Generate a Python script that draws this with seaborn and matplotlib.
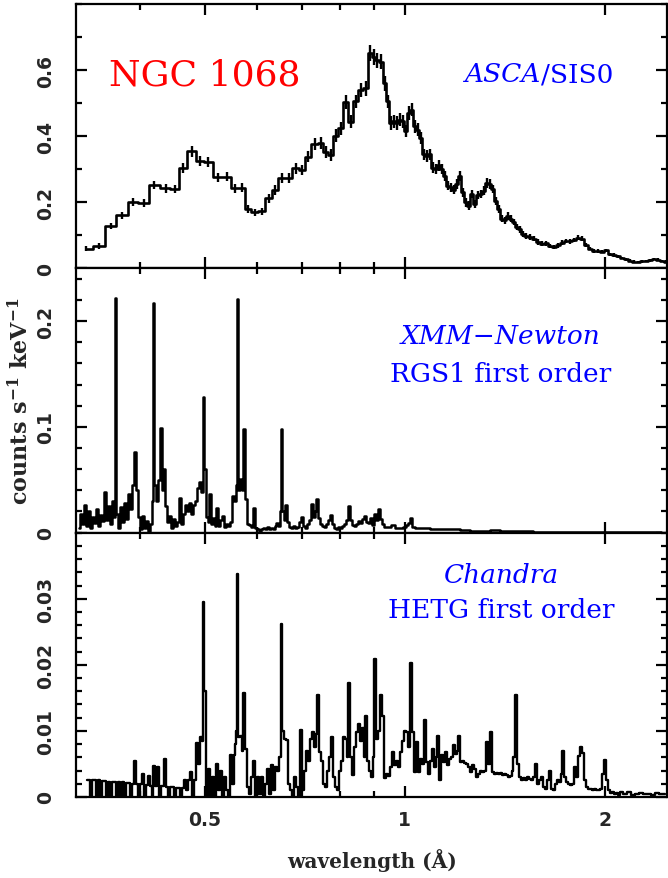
import matplotlib
matplotlib.use("Agg")
import matplotlib.pyplot as plt
from matplotlib.ticker import FixedLocator, FixedFormatter, MultipleLocator, NullFormatter
from matplotlib.offsetbox import TextArea, HPacker, AnchoredOffsetbox
import pandas as pd
import seaborn as sns

# ---------------------------------------------------------------- data
# ASCA/SIS0 grouped spectrum: bin centre (keV), rate, 1-sigma error
asca_energy = [
    0.3318, 0.3465, 0.3607, 0.3756, 0.3900, 0.4043, 0.4197, 0.4365, 0.4506, 0.4633,
    0.4783, 0.4914, 0.5057, 0.5236, 0.5391, 0.5548, 0.5693, 0.5810, 0.5940, 0.6086,
    0.6235, 0.6373, 0.6522, 0.6690, 0.6849, 0.6991, 0.7145, 0.7312, 0.7469, 0.7600,
    0.7733, 0.7868, 0.8005, 0.8146, 0.8288, 0.8433, 0.8580, 0.8730, 0.8873, 0.8982,
    0.9076, 0.9202, 0.9330, 0.9427, 0.9527, 0.9626, 0.9726, 0.9828, 0.9931, 1.0035,
    1.0140, 1.0246, 1.0353, 1.0461, 1.0571, 1.0681, 1.0793, 1.0905, 1.1019, 1.1134,
    1.1251, 1.1368, 1.1487, 1.1607, 1.1729, 1.1851, 1.1975, 1.2100, 1.2226, 1.2354,
    1.2484, 1.2614, 1.2746, 1.2879, 1.3013, 1.3149, 1.3287, 1.3426, 1.3566, 1.3707,
    1.3851, 1.3996, 1.4142, 1.4289, 1.4439, 1.4590, 1.4743, 1.4897, 1.5052, 1.5210,
    1.5422, 1.5638, 1.5856, 1.6077, 1.6301, 1.6529, 1.6760, 1.6994, 1.7231, 1.7471,
    1.7715, 1.7963, 1.8213, 1.8468, 1.8726, 1.8987, 1.9252, 1.9520, 1.9793, 2.0069,
    2.0350, 2.0633, 2.0921, 2.1214, 2.1509, 2.1810, 2.2114, 2.2423, 2.2736, 2.3054,
    2.3375, 2.3702, 2.4033, 2.4368, 2.4708,
]
asca_rate = [
    0.059, 0.069, 0.128, 0.160, 0.202, 0.198, 0.252, 0.242, 0.240, 0.303,
    0.354, 0.325, 0.323, 0.275, 0.277, 0.242, 0.244, 0.179, 0.169, 0.172,
    0.212, 0.237, 0.273, 0.273, 0.303, 0.298, 0.338, 0.376, 0.379, 0.352,
    0.344, 0.402, 0.424, 0.503, 0.444, 0.505, 0.540, 0.545, 0.652, 0.640,
    0.630, 0.625, 0.560, 0.505, 0.440, 0.445, 0.440, 0.450, 0.445, 0.415,
    0.470, 0.480, 0.430, 0.420, 0.395, 0.345, 0.340, 0.345, 0.305, 0.300,
    0.312, 0.300, 0.280, 0.250, 0.245, 0.238, 0.255, 0.280, 0.230, 0.200,
    0.190, 0.225, 0.195, 0.222, 0.225, 0.235, 0.258, 0.255, 0.240, 0.205,
    0.180, 0.150, 0.145, 0.158, 0.150, 0.140, 0.125, 0.118, 0.105, 0.098,
    0.095, 0.090, 0.080, 0.075, 0.076, 0.068, 0.064, 0.070, 0.078, 0.083,
    0.082, 0.086, 0.093, 0.090, 0.070, 0.060, 0.052, 0.052, 0.050, 0.054,
    0.042, 0.040, 0.036, 0.031, 0.027, 0.023, 0.020, 0.019, 0.021, 0.022,
    0.024, 0.028, 0.026, 0.022, 0.020,
]
asca_error = [
    0.008, 0.009, 0.010, 0.011, 0.012, 0.012, 0.013, 0.013, 0.013, 0.015,
    0.016, 0.015, 0.015, 0.014, 0.014, 0.013, 0.013, 0.012, 0.012, 0.012,
    0.013, 0.014, 0.015, 0.015, 0.016, 0.016, 0.017, 0.018, 0.018, 0.018,
    0.018, 0.019, 0.020, 0.021, 0.020, 0.021, 0.022, 0.022, 0.024, 0.024,
    0.023, 0.023, 0.022, 0.021, 0.020, 0.020, 0.020, 0.020, 0.020, 0.019,
    0.020, 0.020, 0.019, 0.019, 0.018, 0.017, 0.017, 0.017, 0.016, 0.016,
    0.016, 0.016, 0.015, 0.014, 0.014, 0.014, 0.014, 0.015, 0.014, 0.013,
    0.013, 0.013, 0.013, 0.013, 0.013, 0.013, 0.014, 0.014, 0.013, 0.012,
    0.012, 0.011, 0.011, 0.011, 0.011, 0.010, 0.010, 0.010, 0.009, 0.009,
    0.009, 0.008, 0.008, 0.008, 0.008, 0.007, 0.007, 0.007, 0.007, 0.007,
    0.007, 0.007, 0.007, 0.007, 0.006, 0.006, 0.006, 0.006, 0.005, 0.005,
    0.005, 0.005, 0.005, 0.004, 0.004, 0.004, 0.004, 0.004, 0.004, 0.004,
    0.004, 0.004, 0.004, 0.004, 0.004,
]

# XMM-Newton RGS1 first order: channel energy (keV), rate
rgs_energy = [
    0.3230, 0.3253, 0.3276, 0.3299, 0.3322, 0.3345, 0.3368, 0.3391, 0.3415, 0.3439,
    0.3463, 0.3487, 0.3511, 0.3536, 0.3560, 0.3585, 0.3610, 0.3635, 0.3660, 0.3673,
    0.3685, 0.3711, 0.3737, 0.3763, 0.3789, 0.3815, 0.3842, 0.3869, 0.3895, 0.3923,
    0.3950, 0.3977, 0.4005, 0.4033, 0.4061, 0.4089, 0.4118, 0.4146, 0.4175, 0.4190,
    0.4204, 0.4233, 0.4263, 0.4292, 0.4322, 0.4337, 0.4368, 0.4398, 0.4429, 0.4460,
    0.4491, 0.4522, 0.4553, 0.4585, 0.4617, 0.4649, 0.4681, 0.4714, 0.4747, 0.4780,
    0.4814, 0.4847, 0.4881, 0.4914, 0.4949, 0.4983, 0.5000, 0.5035, 0.5070, 0.5087,
    0.5123, 0.5158, 0.5194, 0.5212, 0.5248, 0.5285, 0.5322, 0.5359, 0.5396, 0.5434,
    0.5472, 0.5510, 0.5548, 0.5587, 0.5606, 0.5626, 0.5665, 0.5704, 0.5724, 0.5763,
    0.5804, 0.5844, 0.5885, 0.5925, 0.5967, 0.6008, 0.6050, 0.6092, 0.6135, 0.6178,
    0.6221, 0.6263, 0.6307, 0.6351, 0.6395, 0.6417, 0.6462, 0.6507, 0.6530, 0.6552,
    0.6598, 0.6621, 0.6667, 0.6713, 0.6760, 0.6807, 0.6854, 0.6902, 0.6950, 0.6998,
    0.7047, 0.7095, 0.7145, 0.7195, 0.7245, 0.7295, 0.7346, 0.7371, 0.7422, 0.7474,
    0.7526, 0.7579, 0.7631, 0.7684, 0.7738, 0.7792, 0.7846, 0.7900, 0.7955, 0.8011,
    0.8066, 0.8123, 0.8179, 0.8236, 0.8293, 0.8351, 0.8409, 0.8467, 0.8526, 0.8586,
    0.8645, 0.8706, 0.8766, 0.8827, 0.8888, 0.8950, 0.9013, 0.9076, 0.9139, 0.9202,
    0.9266, 0.9330, 0.9461, 0.9593, 0.9727, 0.9862, 1.0000, 1.0070, 1.0140, 1.0210,
    1.0281, 1.0425, 1.0718, 1.1096, 1.1487, 1.1892, 1.2311, 1.2746, 1.3195, 1.3660,
    1.4142, 1.4641, 1.5157, 1.6021, 1.7171, 1.8404, 1.9725, 2.1140, 2.2657, 2.4284,
]
rgs_rate = [
    0.004, 0.018, 0.008, 0.026, 0.006, 0.020, 0.004, 0.015, 0.009, 0.022,
    0.006, 0.017, 0.011, 0.038, 0.012, 0.025, 0.008, 0.030, 0.015, 0.222,
    0.018, 0.004, 0.024, 0.010, 0.028, 0.013, 0.037, 0.022, 0.045, 0.076,
    0.040, 0.015, 0.003, 0.016, 0.004, 0.011, 0.002, 0.008, 0.030, 0.217,
    0.045, 0.030, 0.050, 0.099, 0.040, 0.060, 0.025, 0.010, 0.016, 0.004,
    0.013, 0.006, 0.010, 0.033, 0.008, 0.018, 0.026, 0.020, 0.028, 0.018,
    0.026, 0.030, 0.042, 0.048, 0.038, 0.128, 0.060, 0.015, 0.010, 0.037,
    0.008, 0.014, 0.006, 0.023, 0.006, 0.012, 0.016, 0.005, 0.008, 0.006,
    0.010, 0.035, 0.030, 0.045, 0.221, 0.040, 0.051, 0.040, 0.098, 0.032,
    0.008, 0.007, 0.005, 0.023, 0.004, 0.003, 0.002, 0.003, 0.004, 0.003,
    0.005, 0.003, 0.004, 0.003, 0.006, 0.009, 0.006, 0.020, 0.098, 0.020,
    0.012, 0.026, 0.010, 0.005, 0.004, 0.006, 0.004, 0.005, 0.010, 0.015,
    0.006, 0.004, 0.008, 0.012, 0.027, 0.015, 0.020, 0.032, 0.014, 0.008,
    0.006, 0.005, 0.008, 0.012, 0.017, 0.008, 0.004, 0.003, 0.005, 0.004,
    0.006, 0.008, 0.012, 0.025, 0.012, 0.007, 0.006, 0.008, 0.011, 0.009,
    0.013, 0.016, 0.010, 0.009, 0.014, 0.007, 0.018, 0.012, 0.022, 0.013,
    0.008, 0.005, 0.005, 0.007, 0.004, 0.004, 0.005, 0.007, 0.009, 0.014,
    0.005, 0.004, 0.004, 0.0035, 0.003, 0.003, 0.0025, 0.002, 0.002, 0.0025,
    0.002, 0.0015, 0.0012, 0.001, 0.0008, 0.0008, 0.0006, 0.0005, 0.0004, 0.0004,
]

# Chandra HETG first order: channel energy (keV), rate
hetg_energy = [
    0.3322, 0.3345, 0.3368, 0.3391, 0.3415, 0.3439, 0.3463, 0.3487, 0.3511, 0.3536,
    0.3560, 0.3585, 0.3610, 0.3635, 0.3660, 0.3685, 0.3711, 0.3737, 0.3763, 0.3789,
    0.3815, 0.3842, 0.3869, 0.3895, 0.3923, 0.3950, 0.3977, 0.4005, 0.4033, 0.4061,
    0.4089, 0.4118, 0.4146, 0.4175, 0.4190, 0.4219, 0.4248, 0.4278, 0.4307, 0.4337,
    0.4353, 0.4383, 0.4414, 0.4444, 0.4475, 0.4506, 0.4538, 0.4569, 0.4601, 0.4633,
    0.4665, 0.4698, 0.4731, 0.4764, 0.4797, 0.4830, 0.4864, 0.4898, 0.4932, 0.4966,
    0.4983, 0.5000, 0.5035, 0.5070, 0.5105, 0.5140, 0.5176, 0.5212, 0.5248, 0.5285,
    0.5322, 0.5359, 0.5396, 0.5434, 0.5472, 0.5510, 0.5548, 0.5568, 0.5587, 0.5606,
    0.5626, 0.5665, 0.5704, 0.5724, 0.5763, 0.5804, 0.5844, 0.5885, 0.5925, 0.5967,
    0.6008, 0.6050, 0.6092, 0.6135, 0.6178, 0.6221, 0.6263, 0.6307, 0.6351, 0.6395,
    0.6439, 0.6484, 0.6530, 0.6552, 0.6598, 0.6644, 0.6690, 0.6736, 0.6783, 0.6830,
    0.6878, 0.6926, 0.6974, 0.7022, 0.7071, 0.7120, 0.7170, 0.7220, 0.7270, 0.7320,
    0.7371, 0.7397, 0.7448, 0.7500, 0.7552, 0.7605, 0.7658, 0.7711, 0.7765, 0.7819,
    0.7873, 0.7928, 0.7983, 0.8039, 0.8095, 0.8151, 0.8208, 0.8236, 0.8293, 0.8351,
    0.8409, 0.8467, 0.8526, 0.8586, 0.8645, 0.8706, 0.8736, 0.8797, 0.8858, 0.8919,
    0.8981, 0.9013, 0.9076, 0.9139, 0.9202, 0.9266, 0.9330, 0.9395, 0.9461, 0.9527,
    0.9593, 0.9659, 0.9727, 0.9794, 0.9862, 0.9931, 1.0000, 1.0070, 1.0140, 1.0210,
    1.0281, 1.0353, 1.0425, 1.0497, 1.0571, 1.0644, 1.0718, 1.0793, 1.0868, 1.0943,
    1.1019, 1.1096, 1.1173, 1.1212, 1.1290, 1.1368, 1.1447, 1.1527, 1.1607, 1.1688,
    1.1769, 1.1851, 1.1933, 1.2017, 1.2058, 1.2142, 1.2226, 1.2311, 1.2397, 1.2484,
    1.2570, 1.2658, 1.2746, 1.2834, 1.2924, 1.3013, 1.3104, 1.3195, 1.3287, 1.3379,
    1.3472, 1.3566, 1.3660, 1.3755, 1.3851, 1.3947, 1.4044, 1.4142, 1.4240, 1.4339,
    1.4439, 1.4539, 1.4590, 1.4692, 1.4794, 1.4897, 1.5000, 1.5105, 1.5210, 1.5315,
    1.5422, 1.5529, 1.5638, 1.5746, 1.5856, 1.5966, 1.6077, 1.6189, 1.6301, 1.6415,
    1.6529, 1.6644, 1.6760, 1.6876, 1.6994, 1.7112, 1.7231, 1.7291, 1.7411, 1.7532,
    1.7654, 1.7777, 1.7901, 1.8025, 1.8150, 1.8277, 1.8404, 1.8532, 1.8661, 1.8790,
    1.8921, 1.9053, 1.9185, 1.9319, 1.9453, 1.9588, 1.9725, 1.9862, 2.0000, 2.0139,
    2.0279, 2.0420, 2.0562, 2.0705, 2.0849, 2.0994, 2.1140, 2.1435, 2.1734, 2.2038,
    2.2345, 2.2657, 2.2974, 2.3294, 2.3619, 2.3949, 2.4284, 2.4623,
]
hetg_rate = [
    0.0026, 0.0026, 0.0, 0.0025, 0.0025, 0.0, 0.0025, 0.0, 0.0024, 0.0024,
    0.0, 0.0023, 0.0, 0.0023, 0.0023, 0.0, 0.0022, 0.0, 0.0022, 0.0,
    0.0021, 0.0021, 0.0, 0.0020, 0.0054, 0.0019, 0.0, 0.0019, 0.0034, 0.0,
    0.0018, 0.0032, 0.0017, 0.0, 0.0047, 0.0017, 0.0045, 0.0, 0.0016, 0.0016,
    0.0058, 0.0015, 0.0, 0.0015, 0.0015, 0.0, 0.0014, 0.0014, 0.0, 0.0014,
    0.0025, 0.0010, 0.0025, 0.0038, 0.0, 0.0025, 0.0082, 0.0050, 0.0091, 0.0085,
    0.0295, 0.0160, 0.0, 0.0043, 0.0, 0.0030, 0.0, 0.0050, 0.0010, 0.0039,
    0.0, 0.0030, 0.0010, 0.0, 0.0063, 0.0020, 0.0063, 0.0080, 0.0100, 0.0337,
    0.0090, 0.0093, 0.0070, 0.0158, 0.0073, 0.0015, 0.0005, 0.0030, 0.0055, 0.0,
    0.0030, 0.0005, 0.0030, 0.0, 0.0020, 0.0043, 0.0005, 0.0048, 0.0010, 0.0045,
    0.0040, 0.0060, 0.0262, 0.0100, 0.0088, 0.0086, 0.0020, 0.0010, 0.0, 0.0030,
    0.0015, 0.0, 0.0102, 0.0010, 0.0040, 0.0070, 0.0055, 0.0088, 0.0098, 0.0075,
    0.0095, 0.0155, 0.0068, 0.0055, 0.0020, 0.0015, 0.0040, 0.0060, 0.0090, 0.0030,
    0.0015, 0.0010, 0.0040, 0.0055, 0.0090, 0.0088, 0.0060, 0.0172, 0.0060, 0.0033,
    0.0075, 0.0098, 0.0110, 0.0085, 0.0105, 0.0060, 0.0123, 0.0055, 0.0040, 0.0030,
    0.0060, 0.0209, 0.0088, 0.0100, 0.0155, 0.0123, 0.0028, 0.0035, 0.0032, 0.0045,
    0.0068, 0.0048, 0.0055, 0.0045, 0.0068, 0.0085, 0.0100, 0.0098, 0.0075, 0.0202,
    0.0098, 0.0038, 0.0083, 0.0038, 0.0058, 0.0050, 0.0116, 0.0053, 0.0035, 0.0055,
    0.0073, 0.0045, 0.0060, 0.0093, 0.0025, 0.0063, 0.0053, 0.0068, 0.0048, 0.0058,
    0.0060, 0.0078, 0.0065, 0.0070, 0.0093, 0.0053, 0.0055, 0.0052, 0.0050, 0.0045,
    0.0038, 0.0048, 0.0042, 0.0030, 0.0035, 0.0040, 0.0038, 0.0040, 0.0083, 0.0050,
    0.0099, 0.0038, 0.0035, 0.0036, 0.0034, 0.0036, 0.0033, 0.0035, 0.0033, 0.0030,
    0.0031, 0.0040, 0.0060, 0.0154, 0.0050, 0.0030, 0.0025, 0.0028, 0.0026, 0.0030,
    0.0027, 0.0025, 0.0030, 0.0050, 0.0020, 0.0025, 0.0030, 0.0015, 0.0012, 0.0025,
    0.0040, 0.0012, 0.0010, 0.0020, 0.0025, 0.0022, 0.0035, 0.0069, 0.0030, 0.0022,
    0.0020, 0.0018, 0.0020, 0.0045, 0.0030, 0.0062, 0.0076, 0.0066, 0.0025, 0.0015,
    0.0012, 0.0012, 0.0011, 0.0012, 0.0011, 0.0010, 0.0012, 0.0035, 0.0056, 0.0025,
    0.0010, 0.0006, 0.0008, 0.0004, 0.0006, 0.0003, 0.0007, 0.0005, 0.0008, 0.0003,
    0.0005, 0.0006, 0.0004, 0.0005, 0.0003, 0.0006, 0.0004, 0.0005,
]

# axis annotations
x_major = [0.5, 1, 2]
x_major_labels = ["0.5", "1", "2"]
x_minor = [0.4, 0.6, 0.7, 0.8, 0.9]
energy_range = (0.32, 2.48)

panel_ymax = [0.8, 0.25, 0.04]
panel_ymajor = [[0, 0.2, 0.4, 0.6], [0, 0.1, 0.2], [0, 0.01, 0.02, 0.03]]
panel_ylabels = [["0", "0.2", "0.4", "0.6"], ["0", "0.1", "0.2"], ["0", "0.01", "0.02", "0.03"]]
panel_yminor_step = [0.1, 0.02, 0.002]

# ---------------------------------------------------------------- style
sns.set_theme(style="ticks")
plt.rcParams["font.family"] = ["DejaVu Sans"]
plt.rcParams["mathtext.fontset"] = "dejavuserif"
plt.rcParams["axes.linewidth"] = 1.6

BLUE = "#0000ff"
SERIF = "DejaVu Serif"

fig = plt.figure(figsize=(6.68, 8.79), dpi=100)
axes = fig.subplots(
    3, 1, sharex=True,
    gridspec_kw=dict(left=0.1138, right=0.9985, top=0.9943, bottom=0.0922, hspace=0),
)

asca = pd.DataFrame({"energy": asca_energy, "rate": asca_rate, "err": asca_error})
rgs = pd.DataFrame({"energy": rgs_energy, "rate": rgs_rate})
hetg = pd.DataFrame({"energy": hetg_energy, "rate": hetg_rate})

ax1, ax2, ax3 = axes

# ASCA: stepped histogram with error crosses
sns.lineplot(data=asca, x="energy", y="rate", ax=ax1, color="black", linewidth=1.9,
             drawstyle="steps-mid", estimator=None, sort=False, errorbar=None)
ax1.errorbar(asca["energy"], asca["rate"], yerr=asca["err"], fmt="none",
             ecolor="black", elinewidth=1.7, capsize=0)

sns.lineplot(data=rgs, x="energy", y="rate", ax=ax2, color="black", linewidth=1.8,
             drawstyle="steps-mid", estimator=None, sort=False, errorbar=None)
sns.lineplot(data=hetg, x="energy", y="rate", ax=ax3, color="black", linewidth=1.7,
             drawstyle="steps-mid", estimator=None, sort=False, errorbar=None)

for i, ax in enumerate(axes):
    ax.set_xscale("log")
    ax.set_xlim(*energy_range)
    ax.set_ylim(0, panel_ymax[i])
    ax.xaxis.set_major_locator(FixedLocator(x_major))
    ax.xaxis.set_minor_locator(FixedLocator(x_minor))
    ax.xaxis.set_minor_formatter(NullFormatter())
    ax.yaxis.set_major_locator(FixedLocator(panel_ymajor[i]))
    ax.yaxis.set_major_formatter(FixedFormatter(panel_ylabels[i]))
    ax.yaxis.set_minor_locator(MultipleLocator(panel_yminor_step[i]))
    ax.tick_params(which="both", direction="in", top=True, right=True, width=1.6, color="black")
    ax.tick_params(which="major", length=8)
    ax.tick_params(which="minor", length=4.5)
    ax.tick_params(axis="y", labelsize=13.5, pad=15, labelrotation=90)
    ax.tick_params(axis="x", labelsize=13.5, pad=9.5)
    for lab in ax.get_yticklabels():
        lab.set_fontweight("bold")
        lab.set_va("center")
    ax.set_xlabel("")
    ax.set_ylabel("")
    for s in ax.spines.values():
        s.set_color("black")

ax3.xaxis.set_major_formatter(FixedFormatter(x_major_labels))
for lab in ax3.get_xticklabels():
    lab.set_fontweight("bold")

# labels
ax3.set_xlabel("wavelength (Å)", fontsize=14.5, fontweight="bold", family=SERIF)
ax3.xaxis.set_label_coords(0.5, -0.195)
ax2.set_ylabel(r"counts s$^{\mathbf{-1}}$ keV$^{\mathbf{-1}}$", fontsize=16,
               fontweight="bold", family=SERIF)
ax2.yaxis.set_label_coords(-0.072, 0.5)

# panel annotations
ax1.text(0.218, 0.732, "NGC 1068", transform=ax1.transAxes, ha="center", va="center",
         color="red", fontsize=26, family=SERIF)

asca_label = HPacker(
    children=[
        TextArea("ASCA", textprops=dict(color=BLUE, fontsize=19, family=SERIF, style="italic")),
        TextArea("/SIS0", textprops=dict(color=BLUE, fontsize=19, family=SERIF)),
    ],
    align="baseline", pad=0, sep=0,
)
ax1.add_artist(AnchoredOffsetbox(loc="center", child=asca_label, pad=0, borderpad=0,
                                 frameon=False, bbox_to_anchor=(0.783, 0.736),
                                 bbox_transform=ax1.transAxes))

ax2.text(0.719, 0.746, "XMM\u2212Newton", transform=ax2.transAxes, ha="center", va="center",
         color=BLUE, fontsize=19, family=SERIF, style="italic")
ax2.text(0.719, 0.602, "RGS1 first order", transform=ax2.transAxes, ha="center", va="center",
         color=BLUE, fontsize=19, family=SERIF)

ax3.text(0.72, 0.840, "Chandra", transform=ax3.transAxes, ha="center", va="center",
         color=BLUE, fontsize=19, family=SERIF, style="italic")
ax3.text(0.72, 0.711, "HETG first order", transform=ax3.transAxes, ha="center", va="center",
         color=BLUE, fontsize=19, family=SERIF)

fig.savefig("out.png", dpi=100)
